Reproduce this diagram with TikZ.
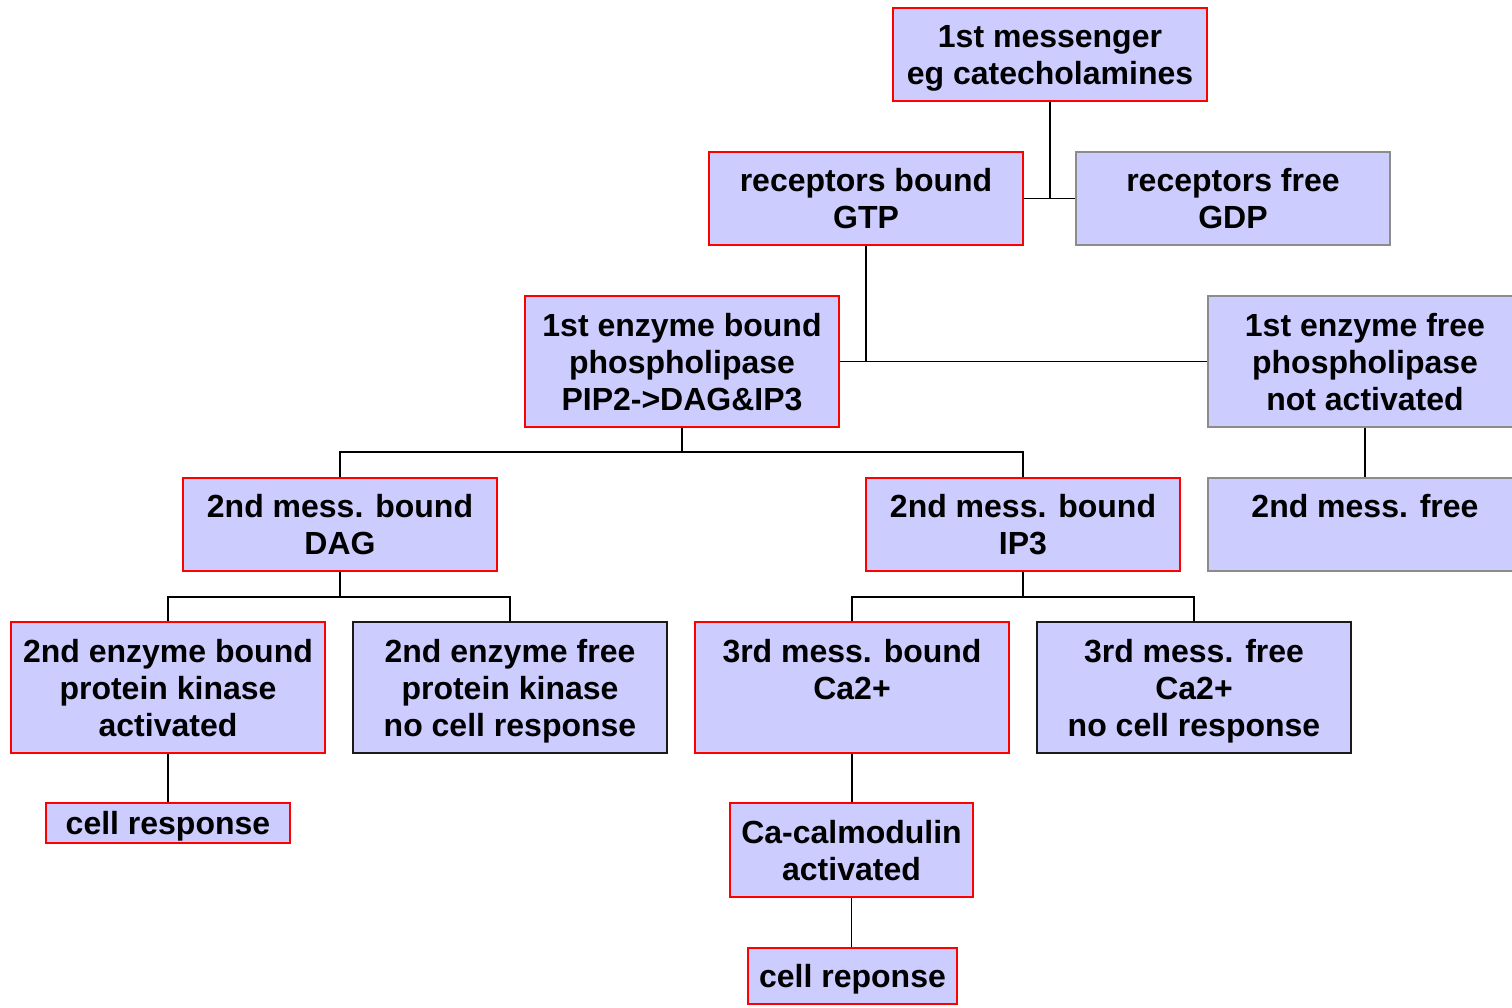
\documentclass[tikz,border=0pt]{standalone}
\usepackage{fontspec}
\setmainfont{Liberation Sans}
\definecolor{boxfill}{HTML}{CCCCFF}
\definecolor{redline}{HTML}{FF0000}
\definecolor{grayline}{HTML}{8C8C8C}
\definecolor{darkline}{HTML}{1A1A1A}
\newcommand\lstrut{\rule[-7pt]{0pt}{37pt}}
\tikzset{
  box/.style={rectangle, fill=boxfill, line width=2pt, inner sep=0pt,
    align=center, font=\fontsize{32}{37}\selectfont\bfseries,
    minimum width=314pt, minimum height=93pt},
  tall/.style={minimum height=131pt},
  redbox/.style={box, draw=redline},
  graybox/.style={box, draw=grayline},
  darkbox/.style={box, draw=darkline},
  link/.style={draw=black, line width=1.8pt}
}
\begin{document}
\begin{tikzpicture}[x=1pt,y=-1pt]
\clip (0,0) rectangle (1512,1007);
\fill[white] (0,0) rectangle (1512,1007);
\node[redbox] (m1) at (1050,54.5) {\lstrut 1st messenger\\\lstrut eg catecholamines};
\node[redbox] (rb) at (866,198.5) {\lstrut receptors bound\\\lstrut GTP};
\node[graybox] (rf) at (1233,198.5) {\lstrut receptors free\\\lstrut GDP};
\node[redbox,tall] (eb) at (682,361.5) {\lstrut 1st enzyme bound\\\lstrut phospholipase\\\lstrut PIP2->DAG\&IP3};
\node[graybox,tall] (ef) at (1365,361.5) {\lstrut 1st enzyme free\\\lstrut phospholipase\\\lstrut not activated};
\node[redbox] (db) at (340,524.5) {\lstrut 2nd mess. bound\\\lstrut DAG};
\node[redbox] (ib) at (1023,524.5) {\lstrut 2nd mess. bound\\\lstrut IP3};
\node[graybox] (mf) at (1365,524.5) {\lstrut 2nd mess. free\\\lstrut};
\node[redbox,tall] (kb) at (168,687.5) {\lstrut 2nd enzyme bound\\\lstrut protein kinase\\\lstrut activated};
\node[darkbox,tall] (kf) at (510,687.5) {\lstrut 2nd enzyme free\\\lstrut protein kinase\\\lstrut no cell response};
\node[redbox,tall] (cb) at (852,687.5) {\lstrut 3rd mess. bound\\\lstrut Ca2+\\\lstrut};
\node[darkbox,tall] (cf) at (1194,687.5) {\lstrut 3rd mess. free\\\lstrut Ca2+\\\lstrut no cell response};
\node[redbox,minimum width=244pt,minimum height=40pt] (cr) at (168,823) {\lstrut cell response};
\node[redbox,minimum width=243pt,minimum height=94pt] (cm) at (851.5,850) {\lstrut Ca-calmodulin\\\lstrut activated};
\node[redbox,minimum width=209pt,minimum height=56pt] (cr2) at (852.5,976) {\lstrut cell reponse};
\coordinate (j1) at (682,452);
\coordinate (j2) at (340,597);
\coordinate (j3) at (1023,597);
\path[link] (m1.south) -- (m1.south |- rb.east);
\path[link] (rb.east) -- (rf.west);
\path[link] (rb.south) -- (rb.south |- eb.east);
\path[link] (eb.east) -- (ef.west);
\path[link] (eb.south) -- (j1);
\path[link] (db.north) |- (j1) -| (ib.north);
\path[link] (ef.south) -- (mf.north);
\path[link] (db.south) -- (j2);
\path[link] (kb.north) |- (j2) -| (kf.north);
\path[link] (ib.south) -- (j3);
\path[link] (cb.north) |- (j3) -| (cf.north);
\path[link] (kb.south) -- (kb.south |- cr.north);
\path[link] (cb.south) -- (cb.south |- cm.north);
\path[link] (cm.south) -- (cm.south |- cr2.north);
\end{tikzpicture}
\end{document}
